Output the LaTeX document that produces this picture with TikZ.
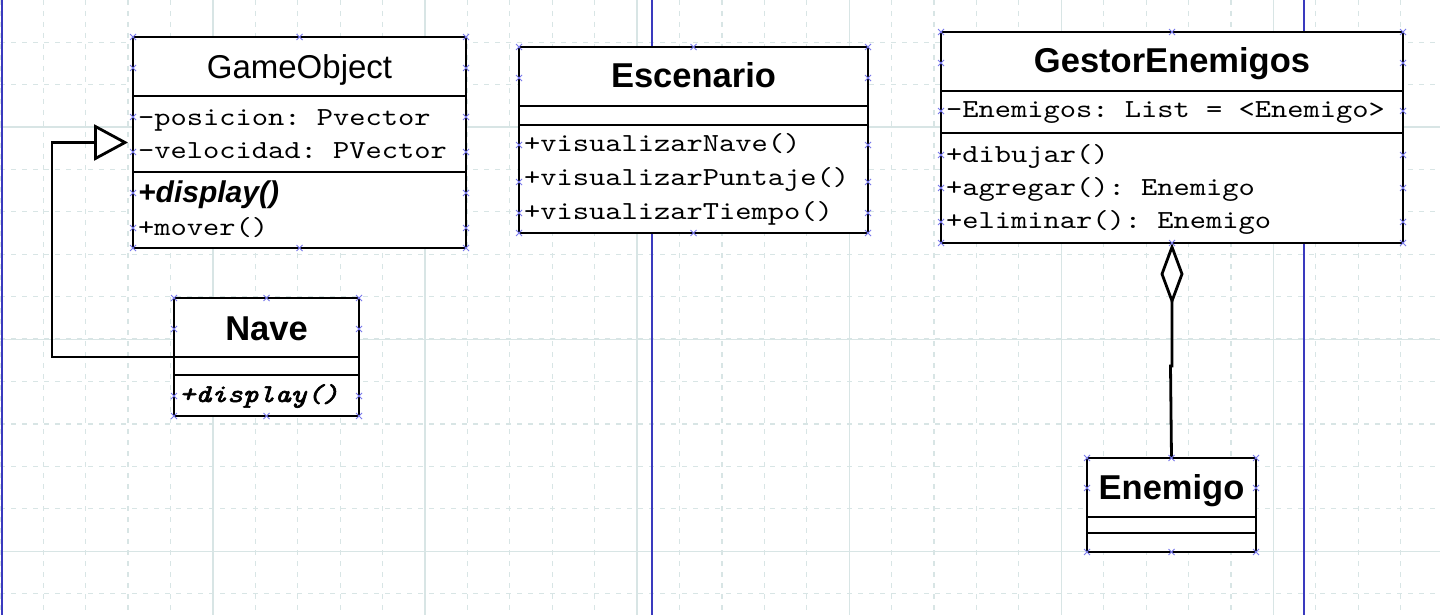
\documentclass[tikz,border=0pt]{standalone}
\usepackage{fontspec}
\setmainfont{Liberation Sans}
\newfontfamily\courfam{lmmono10-regular.otf}[FakeStretch=1.19]
\newfontfamily\courbi{lmmono10-italic.otf}[FakeStretch=1.19, FakeBold=2.5]
\usetikzlibrary{arrows.meta}
\definecolor{gridc}{RGB}{216,229,229}
\definecolor{pageblue}{RGB}{58,58,190}
\definecolor{handlec}{RGB}{120,120,235}
\frenchspacing
\tikzset{
  classbox/.style={draw=black, fill=white, line width=2.8pt, rectangle, inner sep=0pt, outer sep=0pt, anchor=north west},
  divider/.style={draw=black, line width=2.2pt},
  titlebold/.style={font=\fontsize{34.5}{40}\selectfont\bfseries, anchor=base, inner sep=0pt},
  titlereg/.style={font=\fontsize{33}{40}\selectfont, anchor=base, inner sep=0pt},
  member/.style={font=\courfam\fontsize{26}{32}\selectfont\frenchspacing, anchor=base west, inner sep=0pt},
  absans/.style={font=\fontsize{30}{36}\selectfont\bfseries\itshape, anchor=base west, inner sep=0pt},
  abmono/.style={font=\courbi\fontsize{25.5}{32}\selectfont, anchor=base west, inner sep=0pt},
  gridminor/.style={draw=gridc, line width=1.2pt, dash pattern=on 5pt off 6pt},
  gridmajor/.style={draw=gridc, line width=1.3pt},
  pageline/.style={draw=pageblue, line width=2pt},
  gen/.style={draw=black, line width=2.8pt, -{Triangle[open, length=34pt, width=36pt]}, shorten >=5pt},
  agg/.style={draw=black, line width=2.8pt, {Diamond[open, length=62pt, width=23pt]}-},
  hx/.pic={\draw[handlec, line width=0.9pt] (-3,-3) -- (3,3) (-3,3) -- (3,-3);}
}
\newcommand\boxhandles[5]{%
  \pgfmathsetmacro\hmid{(#1+#2)/2}%
  \foreach \hx in {#1,\hmid,#2}{\pic at (\hx,#3) {hx}; \pic at (\hx,#4) {hx};}%
  \foreach \hy in {#5}{\pic at (#1,\hy) {hx}; \pic at (#2,\hy) {hx};}%
}
\begin{document}
\begin{tikzpicture}[x=1pt, y=-1pt]
\useasboundingbox[fill=white] (0,0) rectangle (1440,615);
% grid
\foreach \k in {0,...,33} {\draw[gridminor] ({0.8+42.42*\k},0) -- ({0.8+42.42*\k},615);}
\foreach \k in {0,...,14} {\draw[gridminor] (0,{-0.3+42.42*\k}) -- (1440,{-0.3+42.42*\k});}
\foreach \k in {1,...,6} {\draw[gridmajor] ({0.8+212.1*\k},0) -- ({0.8+212.1*\k},615);}
\foreach \yy in {127,339.2,551.3} {\draw[gridmajor] (0,\yy) -- (1440,\yy);}
% page breaks
\foreach \xx in {1.5,652,1304} {\draw[pageline] (\xx,0) -- (\xx,615);}

% class boxes
\node[classbox, minimum width=333pt, minimum height=211pt] (go) at (133,37) {};
\node[classbox, minimum width=349pt, minimum height=186pt] (es) at (519,47) {};
\node[classbox, minimum width=462pt, minimum height=211pt] (ge) at (941,32) {};
\node[classbox, minimum width=185pt, minimum height=118pt] (nv) at (174,298) {};
\node[classbox, minimum width=169pt, minimum height=94pt] (en) at (1087,458) {};

% connectors
\coordinate (genbend) at (52,357);
\coordinate (aggjog) at (0,366);
\draw[gen] (nv.west) -- (genbend) |- (go.west);
\draw[agg] (ge.south) -- (ge.south |- aggjog) -- ([xshift=-1.5pt]ge.south |- aggjog) -- (en.north);

% dividers
\draw[divider] (133,96) -- (466,96);
\draw[divider] (133,172) -- (466,172);
\draw[divider] (519,106) -- (868,106);
\draw[divider] (519,125) -- (868,125);
\draw[divider] (941,91) -- (1403,91);
\draw[divider] (941,133) -- (1403,133);
\draw[divider] (174,357) -- (359,357);
\draw[divider] (174,375) -- (359,375);
\draw[divider] (1087,517) -- (1256,517);
\draw[divider] (1087,533) -- (1256,533);

% texts
\node[titlereg] (goT) at (299.5,79) {GameObject};
\node[member] (goA1) at (138,125) {-posicion: Pvector};
\node[member] (goA2) at (138,158) {-velocidad: PVector};
\node[absans] (goM1) at (138,202) {+display()};
\node[member] (goM2) at (138,235) {+mover()};

\node[titlebold] (esT) at (693.5,88) {Escenario};
\node[member] (esM1) at (524,151) {+visualizarNave()};
\node[member] (esM2) at (524,185) {+visualizarPuntaje()};
\node[member] (esM3) at (524,219) {+visualizarTiempo()};

\node[titlebold] (geT) at (1172,73) {GestorEnemigos};
\node[member] (geA1) at (946,118) {-Enemigos: List = <Enemigo>};
\node[member] (geM1) at (946,162) {+dibujar()};
\node[member] (geM2) at (946,195) {+agregar(): Enemigo};
\node[member] (geM3) at (946,228) {+eliminar(): Enemigo};

\node[titlebold] (nvT) at (266.5,340) {Nave};
\node[abmono] (nvM1) at (179,402) {+display()};

\node[titlebold] (enT) at (1171.5,499) {Enemigo};

% selection handles
\boxhandles{133}{466}{37}{248}{68,117,152,193,228}
\boxhandles{519}{868}{47}{233}{78,145,182,213}
\boxhandles{941}{1403}{32}{243}{63,111,155,188,222}
\boxhandles{174}{359}{298}{416}{329,396}
\boxhandles{1087}{1256}{458}{552}{488}
\end{tikzpicture}
\end{document}
